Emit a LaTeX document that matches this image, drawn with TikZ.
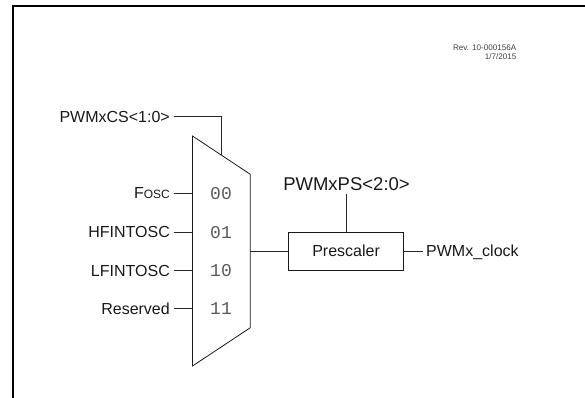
\documentclass[tikz,border=0pt]{standalone}
\usepackage{fontspec}
\setmainfont{Liberation Sans}
\setmonofont{Liberation Mono}
\tikzset{
  wire/.style={line width=0.8pt,draw=black!85},
  muxshape/.style={line width=0.8pt,draw=black!90},
  lab/.style={inner sep=0pt,anchor=east,text height=11.5pt,text depth=0pt,font=\fontsize{16}{18}\selectfont,text=black!90},
  labl/.style={inner sep=0pt,anchor=west,text height=11.5pt,text depth=0pt,font=\fontsize{16}{18}\selectfont,text=black!90},
  sel/.style={inner sep=0pt,anchor=center,text height=11pt,text depth=0pt,font=\fontsize{18}{20}\ttfamily\selectfont,text=black!65},
  prebox/.style={draw=black!90,line width=0.8pt,minimum width=115.2pt,minimum height=38.3pt,inner sep=0pt,text height=11.5pt,text depth=0pt,font=\fontsize{16}{18}\selectfont,text=black!90},
  rev/.style={inner sep=0pt,anchor=mid east,font=\fontsize{8.1}{9}\selectfont,text=black!75}
}
\begin{document}
\begin{tikzpicture}[x=1pt,y=-1pt]
\useasboundingbox (0,0) rectangle (585,398);
\draw[line width=2pt,black] (13,398) -- (13,6.5) -- (585,6.5);
\node[rev] (r1) at (516.5,47.5) {Rev. 10-000156A};
\node[rev] (r2) at (516.5,57.2) {1/7/2015};
% mux
\coordinate (ma) at (192.5,136);
\coordinate (mb) at (250.3,174.3);
\coordinate (mc) at (250.3,327.7);
\coordinate (md) at (192.5,366);
\draw[muxshape] (ma) -- (mb) -- (mc) -- (md) -- cycle;
\node[sel] (s0) at (221,193.5) {00};
\node[sel] (s1) at (221,232.5) {01};
\node[sel] (s2) at (221,270.5) {10};
\node[sel] (s3) at (221,308.5) {11};
% labels
\node[lab] (cs) at (170,116.5) {PWMxCS<1:0>};
\node[lab] (fo) at (170,193) {F\fontsize{12}{14}\selectfont OSC};
\node[lab] (hf) at (170,232) {HFINTOSC};
\node[lab] (lf) at (170,270.5) {LFINTOSC};
\node[lab] (re) at (170,308.5) {Reserved};
\coordinate (mt) at (221,155);
\coordinate (i0) at (192.5,193);
\coordinate (i1) at (192.5,232);
\coordinate (i2) at (192.5,270.5);
\coordinate (i3) at (192.5,308.5);
\coordinate (mo) at (250.3,251.1);
\draw[wire] ([xshift=3.5pt]cs.east) -| (mt);
\draw[wire] ([xshift=3.5pt]fo.east) -- (i0);
\draw[wire] ([xshift=3.5pt]hf.east) -- (i1);
\draw[wire] ([xshift=3.5pt]lf.east) -- (i2);
\draw[wire] ([xshift=3.5pt]re.east) -- (i3);
% prescaler
\node[prebox] (ps) at (346.1,251.1) {Prescaler};
\node[inner sep=0pt,anchor=center,text height=13pt,text depth=0pt,font=\fontsize{18.5}{20}\selectfont,text=black!90] (pp) at (346.5,183.7) {PWMxPS<2:0>};
\node[labl] (ck) at (426,251.1) {PWMx\_clock};
\coordinate (pt) at (346.1,193.5);
\draw[wire] (mo) -- (ps.west);
\draw[wire] (pt) -- (ps.north);
\draw[wire] (ps.east) -- ([xshift=-3.5pt]ck.west);
\end{tikzpicture}
\end{document}
